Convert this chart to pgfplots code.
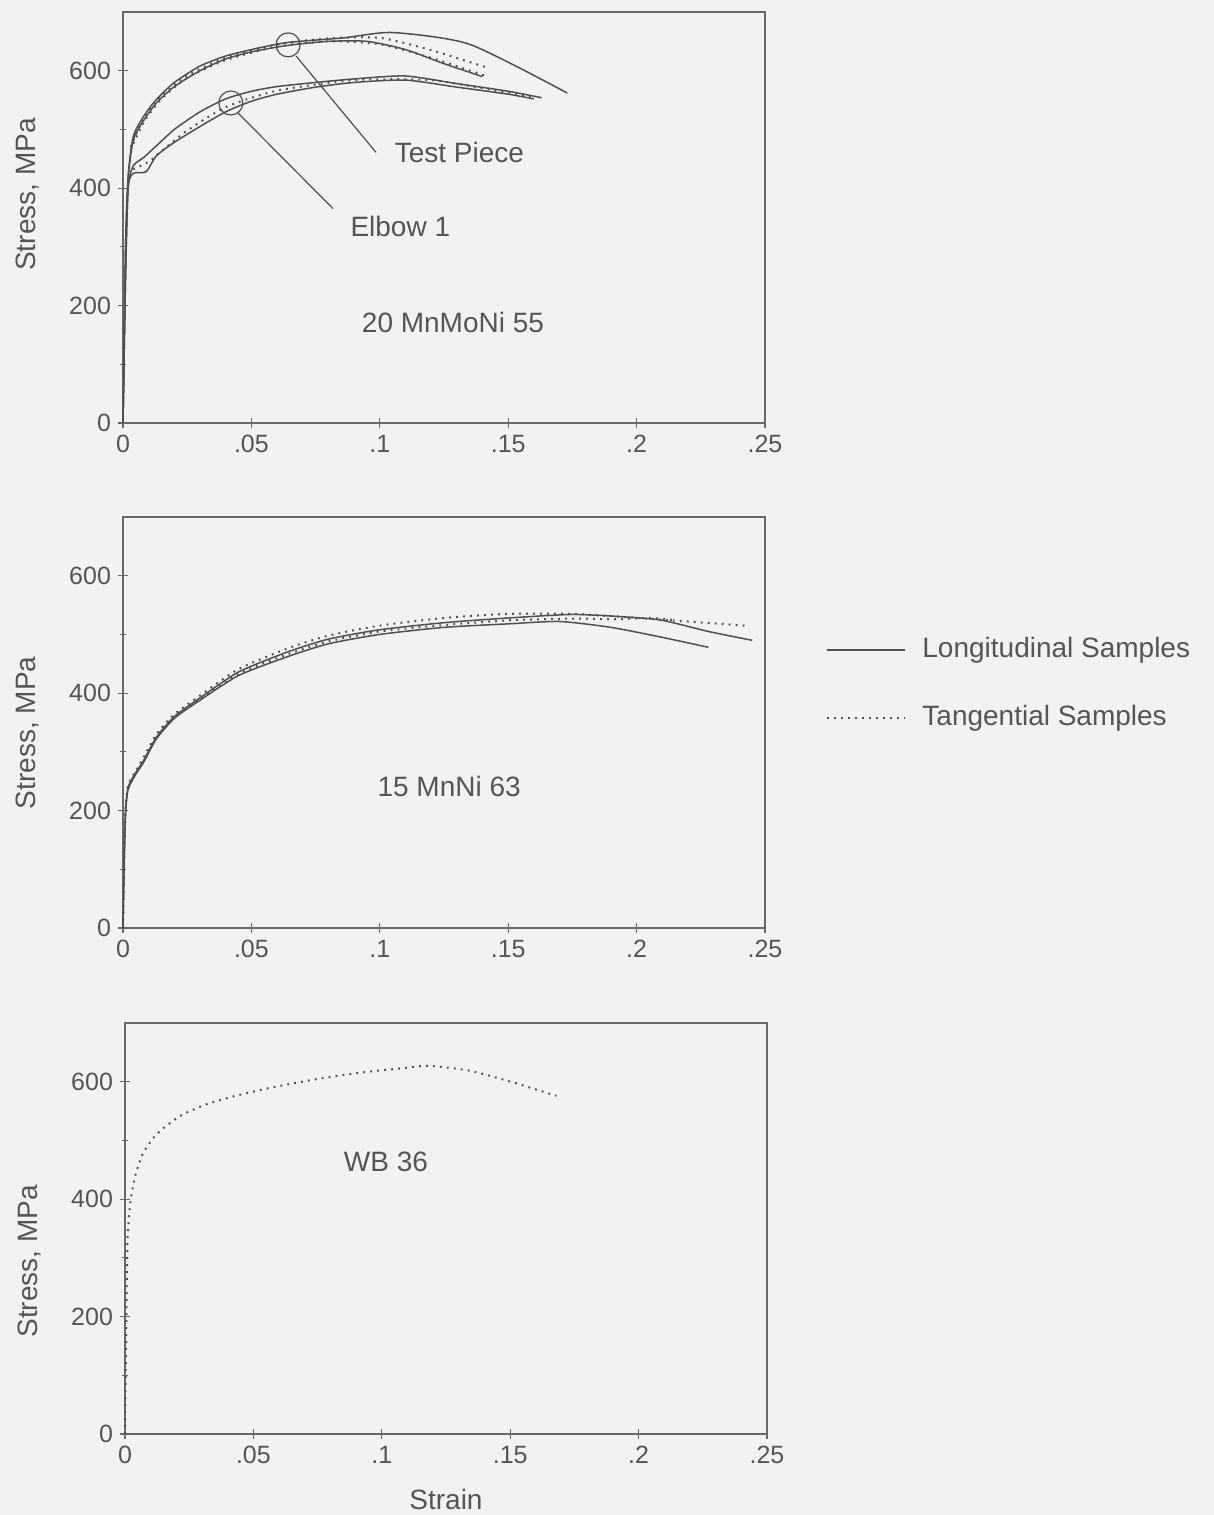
\documentclass[border=0pt]{standalone}
\usepackage{fontspec}
\setmainfont{Liberation Sans}
\usepackage{pgfplots}
\pgfplotsset{compat=1.18}
\definecolor{bg}{RGB}{242,242,242}
\definecolor{ink}{RGB}{80,80,80}
\definecolor{axc}{RGB}{105,105,105}
\definecolor{txt}{RGB}{85,85,85}

\pgfplotsset{
  panel/.style={
    scale only axis, width=321pt, height=205.5pt, anchor=south west,
    xmin=0, xmax=0.25, ymin=0, ymax=700,
    xtick={0,0.05,0.1,0.15,0.2,0.25}, xticklabels={0,.05,.1,.15,.2,.25},
    ytick={0,200,400,600}, minor ytick={100,300,500},
    xtick pos=lower, ytick pos=left,
    tick align=center, major tick length=5pt, minor tick length=3pt,
    axis line style={axc, line width=0.7pt},
    every tick/.style={axc, line width=0.6pt},
    tick label style={font=\fontsize{12.5}{14}\selectfont, text=txt},
    /pgf/number format/assume math mode=true,
    label style={font=\fontsize{14}{16}\selectfont, text=txt},
    ylabel={Stress, MPa},
    clip=false,
  },
  lng/.style={ink, line width=0.75pt, smooth, tension=0.4},
  tng/.style={ink, line width=1pt, dash pattern=on 0.9pt off 2.6pt, smooth, tension=0.4},
}

\begin{document}
\begin{tikzpicture}
\useasboundingbox (0,0) rectangle (607pt,757.5pt);
\fill[bg] (0,0) rectangle (607pt,757.5pt);

% ---------------- top panel: 20 MnMoNi 55
\begin{axis}[panel, at={(61.5pt,546pt)},
  ylabel style={at={(axis description cs:-0.148,0.556)}, anchor=center}]
% Test piece
\addplot[lng] coordinates {(0,0)(0.001,300)(0.002,420)(0.004,488)(0.008,522)(0.013,551)(0.02,580)(0.03,608)(0.04,625)(0.05,636)(0.064,648)(0.086,656)(0.105,665)(0.135,645)(0.173,562)};
\addplot[lng] coordinates {(0,0)(0.001,300)(0.002,415)(0.004,482)(0.008,515)(0.013,545)(0.02,573)(0.03,600)(0.04,620)(0.05,632)(0.064,643)(0.08,650)(0.095,650)(0.11,636)(0.125,612)(0.14,590)};
\addplot[tng] coordinates {(0.003,470)(0.008,518)(0.015,558)(0.025,592)(0.04,622)(0.06,645)(0.08,655)(0.1,656)(0.12,635)(0.142,605)};
\addplot[tng] coordinates {(0.003,465)(0.008,512)(0.015,552)(0.025,588)(0.04,618)(0.06,641)(0.08,650)(0.1,645)(0.12,622)(0.142,590)};
% Elbow 1
\addplot[lng] coordinates {(0,0)(0.001,250)(0.002,400)(0.004,438)(0.008,452)(0.013,472)(0.02,500)(0.03,530)(0.04,552)(0.05,565)(0.06,573)(0.075,580)(0.09,586)(0.11,591)(0.13,578)(0.15,565)(0.163,554)};
\addplot[lng] coordinates {(0,0)(0.001,250)(0.002,400)(0.004,425)(0.009,428)(0.013,455)(0.02,478)(0.03,505)(0.04,530)(0.05,548)(0.06,560)(0.075,572)(0.09,580)(0.11,584)(0.13,572)(0.15,560)(0.16,552)};
\addplot[tng] coordinates {(0.004,432)(0.01,445)(0.015,463)(0.025,498)(0.04,538)(0.06,566)(0.09,584)(0.12,584)(0.145,566)(0.16,556)};
% annotations
\draw[ink, line width=0.6pt] (axis cs:0.0643,644) circle[radius=6pt];
\draw[ink, line width=0.6pt] (axis cs:0.042,545) circle[radius=6pt];
\draw[ink, line width=0.6pt] (axis cs:0.0674,625) -- (axis cs:0.0985,461);
\draw[ink, line width=0.6pt] (axis cs:0.0448,528) -- (axis cs:0.0818,365);
\node[text=txt, font=\fontsize{14}{16}\selectfont] at (axis cs:0.131,461) {Test Piece};
\node[text=txt, font=\fontsize{14}{16}\selectfont] at (axis cs:0.108,335) {Elbow 1};
\node[text=txt, font=\fontsize{14}{16}\selectfont] at (axis cs:0.1285,171) {20 MnMoNi 55};
\end{axis}

% ---------------- middle panel: 15 MnNi 63
\begin{axis}[panel, at={(61.5pt,293.5pt)},
  ylabel style={at={(axis description cs:-0.148,0.475)}, anchor=center}]
\addplot[lng] coordinates {(0,0)(0.0005,120)(0.001,200)(0.002,240)(0.005,265)(0.008,285)(0.013,325)(0.02,360)(0.03,392)(0.045,436)(0.064,470)(0.08,492)(0.1,508)(0.125,520)(0.15,528)(0.175,534)(0.195,530)(0.21,524)(0.228,505)(0.245,490)};
\addplot[lng] coordinates {(0,0)(0.0005,120)(0.001,195)(0.002,236)(0.005,262)(0.008,282)(0.013,322)(0.02,357)(0.03,388)(0.045,430)(0.064,462)(0.08,484)(0.1,500)(0.125,512)(0.15,518)(0.17,522)(0.19,512)(0.21,495)(0.228,478)};
\addplot[tng] coordinates {(0,0)(0.0005,125)(0.001,205)(0.002,243)(0.005,268)(0.008,290)(0.013,330)(0.02,364)(0.03,396)(0.045,441)(0.064,476)(0.08,498)(0.1,515)(0.125,528)(0.15,535)(0.175,535)(0.2,528)(0.22,522)(0.242,515)};
\addplot[tng] coordinates {(0.002,238)(0.005,264)(0.008,286)(0.013,326)(0.02,361)(0.03,390)(0.045,433)(0.064,466)(0.08,488)(0.1,505)(0.125,516)(0.15,524)(0.175,527)(0.19,526)(0.205,528)(0.215,524)};
\node[text=txt, font=\fontsize{14}{16}\selectfont] at (axis cs:0.127,241) {15 MnNi 63};
\end{axis}

% ---------------- bottom panel: WB 36
\begin{axis}[panel, at={(62.5pt,40.5pt)},
  ylabel style={at={(axis description cs:-0.148,0.42)}, anchor=center},
  xlabel={Strain}, xlabel style={yshift=-6pt}]
\addplot[tng] coordinates {(0,0)(0.0003,120)(0.0006,230)(0.001,330)(0.002,392)(0.004,440)(0.007,478)(0.011,504)(0.015,521)(0.022,543)(0.032,562)(0.044,577)(0.057,590)(0.074,604)(0.091,615)(0.108,623)(0.118,627)(0.134,619)(0.151,599)(0.168,576)};
\node[text=txt, font=\fontsize{14}{16}\selectfont] at (axis cs:0.1016,464) {WB 36};
\end{axis}

% ---------------- legend
\draw[ink, line width=0.75pt] (413.5pt,432.5pt) -- (452.5pt,432.5pt);
\node[anchor=west, text=txt, font=\fontsize{14}{16}\selectfont, inner sep=0pt] at (461pt,432.5pt) {Longitudinal Samples};
\draw[ink, line width=1pt, dash pattern=on 0.9pt off 2.6pt] (413.5pt,398.5pt) -- (452.5pt,398.5pt);
\node[anchor=west, text=txt, font=\fontsize{14}{16}\selectfont, inner sep=0pt] at (461pt,398.5pt) {Tangential Samples};
\end{tikzpicture}
\end{document}
